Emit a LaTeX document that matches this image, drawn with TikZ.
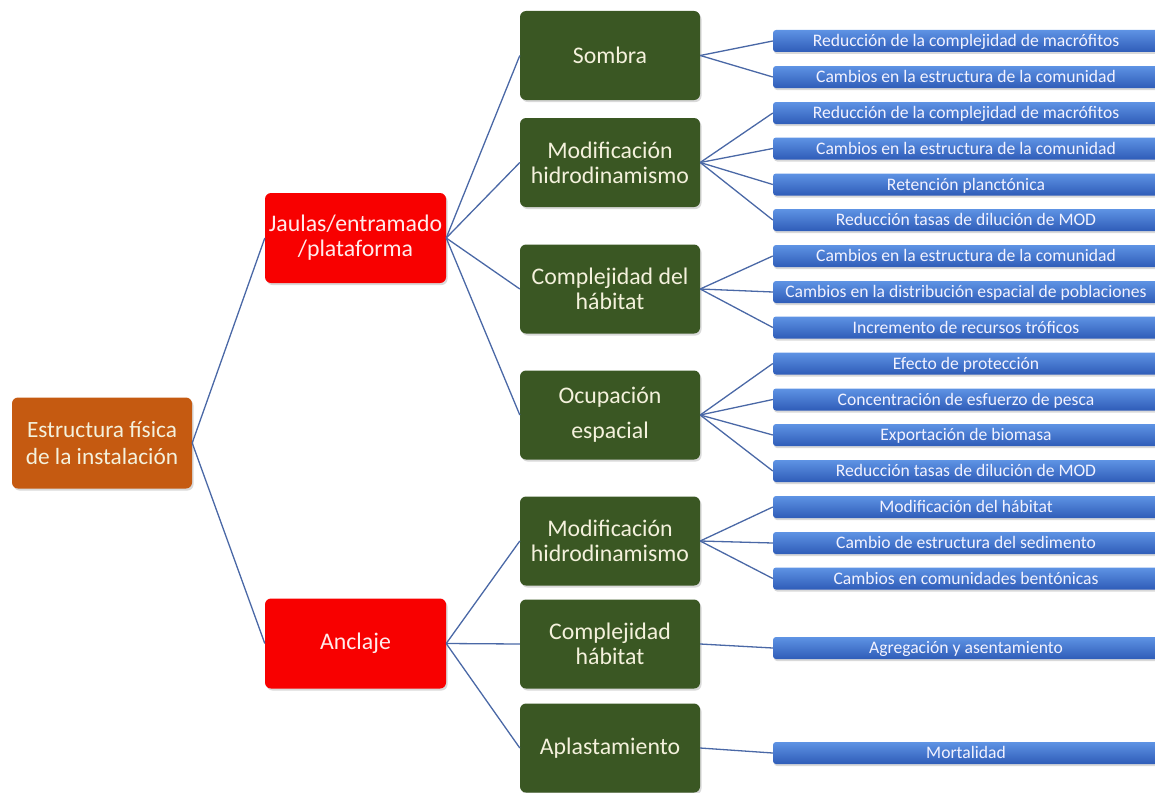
\documentclass[tikz,border=0pt]{standalone}
\usepackage{fontspec}
\setmainfont{Carlito}
\usetikzlibrary{shadows}
\definecolor{rootfill}{HTML}{C55A11}
\definecolor{cagefill}{HTML}{F80000}
\definecolor{sourcefill}{HTML}{3A5723}
\definecolor{effecttop}{HTML}{5E93E4}
\definecolor{effectbot}{HTML}{2F5CB8}
\definecolor{linkcol}{HTML}{4A68A6}
\definecolor{creamtext}{HTML}{F4F1DC}
\tikzset{
  box/.style={rounded corners=6pt, align=center, inner sep=0pt,
    drop shadow={opacity=0.3, shadow xshift=1.5pt, shadow yshift=-2pt}},
  rootbox/.style={box, fill=rootfill, text=creamtext, minimum width=180pt, minimum height=91pt,
    font=\fontsize{23.3}{27}\selectfont},
  cagebox/.style={box, fill=cagefill, text=white!92!red, minimum width=181pt, minimum height=90pt,
    font=\fontsize{23.8}{25}\selectfont},
  sourcebox/.style={box, fill=sourcefill, text=creamtext, minimum width=180pt, minimum height=89pt,
    font=\fontsize{23.8}{25}\selectfont},
  effectbox/.style={rounded corners=3pt, inner sep=0pt, top color=effecttop, bottom color=effectbot,
    text=white!95!blue, minimum width=386pt, minimum height=22pt,
    text height=13.5pt, text depth=2.5pt,
    font=\fontsize{17.6}{19}\selectfont,
    drop shadow={opacity=0.3, shadow xshift=1pt, shadow yshift=-2pt}},
  link/.style={draw=linkcol, line width=1.3pt}
}
\begin{document}
\begin{tikzpicture}[x=1pt,y=-1pt]
    \useasboundingbox (0,0) rectangle (1155,792);
    % root and cage/anchor level
    \node[rootbox] (root) at (102,443) {Estructura física\\de la instalación};
    \node[cagebox] (cage) at (355.5,238) {Jaulas/entramado\\/plataforma};
    \node[cagebox] (anchor) at (355.5,643.5) {Anclaje};
    % sources
    \node[sourcebox] (shade) at (610,55.5) {Sombra};
    \node[sourcebox] (hydroA) at (610,162.5) {Modificación\\hidrodinamismo};
    \node[sourcebox] (habitatA) at (610,289) {Complejidad del\\hábitat};
    \node[sourcebox, font=\fontsize{23.8}{35}\selectfont] (space) at (610,415) {Ocupación\\espacial};
    \node[sourcebox] (hydroB) at (610,541) {Modificación\\hidrodinamismo};
    \node[sourcebox] (habitatB) at (610,644) {Complejidad\\hábitat};
    \node[sourcebox] (crush) at (610,748) {Aplastamiento};
    % effects
    \node[effectbox] (e1) at (966,41) {Reducción de la complejidad de macrófitos};
    \node[effectbox] (e2) at (966,77) {Cambios en la estructura de la comunidad};
    \node[effectbox] (e3) at (966,113) {Reducción de la complejidad de macrófitos};
    \node[effectbox] (e4) at (966,148.5) {Cambios en la estructura de la comunidad};
    \node[effectbox] (e5) at (966,184.5) {Retención planctónica};
    \node[effectbox] (e6) at (966,220) {Reducción tasas de dilución de MOD};
    \node[effectbox] (e7) at (966,256) {Cambios en la estructura de la comunidad};
    \node[effectbox] (e8) at (966,292) {Cambios en la distribución espacial de poblaciones};
    \node[effectbox] (e9) at (966,327.5) {Incremento de recursos tróficos};
    \node[effectbox] (e10) at (966,363.5) {Efecto de protección};
    \node[effectbox] (e11) at (966,399.5) {Concentración de esfuerzo de pesca};
    \node[effectbox] (e12) at (966,435) {Exportación de biomasa};
    \node[effectbox] (e13) at (966,471) {Reducción tasas de dilución de MOD};
    \node[effectbox] (e14) at (966,507) {Modificación del hábitat};
    \node[effectbox] (e15) at (966,543) {Cambio de estructura del sedimento};
    \node[effectbox] (e16) at (966,578.5) {Cambios en comunidades bentónicas};
    \node[effectbox] (e17) at (966,648) {Agregación y asentamiento};
    \node[effectbox] (e18) at (966,753) {Mortalidad};
    % connectors
    \draw[link] (root.east) -- (cage.west);
    \draw[link] (root.east) -- (anchor.west);
    \draw[link] (cage.east) -- (shade.west);
    \draw[link] (cage.east) -- (hydroA.west);
    \draw[link] (cage.east) -- (habitatA.west);
    \draw[link] (cage.east) -- (space.west);
    \draw[link] (anchor.east) -- (hydroB.west);
    \draw[link] (anchor.east) -- (habitatB.west);
    \draw[link] (anchor.east) -- (crush.west);
    \draw[link] (shade.east) -- (e1.west);
    \draw[link] (shade.east) -- (e2.west);
    \draw[link] (hydroA.east) -- (e3.west);
    \draw[link] (hydroA.east) -- (e4.west);
    \draw[link] (hydroA.east) -- (e5.west);
    \draw[link] (hydroA.east) -- (e6.west);
    \draw[link] (habitatA.east) -- (e7.west);
    \draw[link] (habitatA.east) -- (e8.west);
    \draw[link] (habitatA.east) -- (e9.west);
    \draw[link] (space.east) -- (e10.west);
    \draw[link] (space.east) -- (e11.west);
    \draw[link] (space.east) -- (e12.west);
    \draw[link] (space.east) -- (e13.west);
    \draw[link] (hydroB.east) -- (e14.west);
    \draw[link] (hydroB.east) -- (e15.west);
    \draw[link] (hydroB.east) -- (e16.west);
    \draw[link] (habitatB.east) -- (e17.west);
    \draw[link] (crush.east) -- (e18.west);
\end{tikzpicture}
\end{document}
